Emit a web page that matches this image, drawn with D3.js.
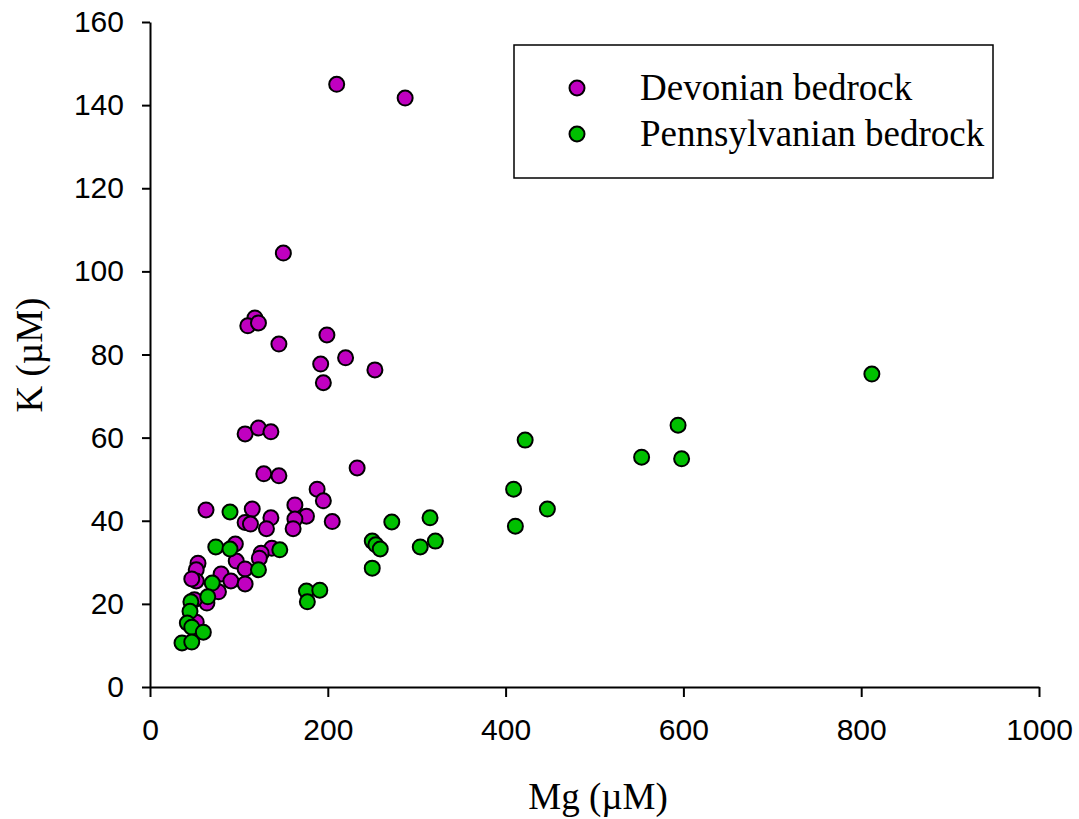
<!DOCTYPE html>
<html>
<head>
<meta charset="utf-8">
<script src="https://cdn.jsdelivr.net/npm/d3@7"></script>
<style>
  body { margin: 0; background: #fff; }
  .tick text { font-family: Arial, "Liberation Sans", sans-serif; font-size: 30px; fill: #000; }
  .tick line, .domain { stroke: #000; stroke-width: 2px; }
</style>
</head>
<body>
<script>
// Mg vs K
var devMg = [210, 287, 150, 118, 110, 122, 145, 199, 220, 192, 195, 253,
  107, 122, 136, 128, 145, 233, 188, 195, 63, 115, 136, 163, 176, 163, 161,
  205, 107, 113, 131, 96, 137, 125, 123, 97, 107, 54, 52, 80, 91, 107, 52,
  77, 64, 44, 52, 50, 47];
var devK = [145, 141.7, 104.4, 88.8, 86.9, 87.6, 82.5, 84.7, 79.2, 77.7, 73.2, 76.3,
  60.9, 62.3, 61.4, 51.3, 50.8, 52.7, 47.6, 44.8, 42.6, 42.8, 40.7, 43.8, 41.1, 40.4, 38.1,
  39.8, 39.6, 39.2, 38.1, 34.4, 33.4, 32.2, 31, 30.3, 28.4, 29.8, 28.2, 27.2, 25.5, 24.8, 25.5,
  22.9, 20.2, 15.4, 15.6, 21, 26];

var penMg = [90, 74, 90, 146, 122, 70, 65, 46, 45, 42, 47, 60, 36, 47,
  176, 191, 177, 250, 254, 259, 272, 304, 315, 321, 250, 409, 411, 422,
  447, 553, 594, 598, 812];
var penK = [42.1, 33.7, 33.2, 33, 28.2, 25, 21.7, 20.5, 18.2, 15.4, 14.4, 13.2, 10.6, 10.8,
  23.1, 23.3, 20.5, 35.1, 34.2, 33.2, 39.7, 33.7, 40.7, 35.1, 28.6, 47.6, 38.7, 59.4,
  42.8, 55.3, 63, 54.9, 75.3];

var seriesNames = ["Devonian bedrock", "Pennsylvanian bedrock"];
var seriesColors = ["#C000C0", "#00C000"];
var xTicks = [0, 200, 400, 600, 800, 1000];
var yTicks = [0, 20, 40, 60, 80, 100, 120, 140, 160];

var width = 1079, height = 819;
var svg = d3.select("body").append("svg")
    .attr("width", width)
    .attr("height", height);

var x = d3.scaleLinear().domain([0, 1000]).range([150, 1039]);
var y = d3.scaleLinear().domain([0, 160]).range([687, 22]);

svg.append("g")
    .attr("transform", "translate(0,687)")
    .call(d3.axisBottom(x).tickValues(xTicks).tickFormat(d3.format("d"))
      .tickSize(10).tickSizeOuter(0).tickPadding(22));

svg.append("g")
    .attr("transform", "translate(150,0)")
    .call(d3.axisLeft(y).tickValues(yTicks).tickFormat(d3.format("d"))
      .tickSize(8).tickSizeOuter(0).tickPadding(18));

// axis titles
svg.append("text")
    .attr("x", 598).attr("y", 809)
    .attr("text-anchor", "middle")
    .style("font-family", "'Liberation Serif', 'Times New Roman', serif")
    .style("font-size", "37px")
    .text("Mg (\u00b5M)");

svg.append("text")
    .attr("transform", "translate(42,355) rotate(-90)")
    .attr("text-anchor", "middle")
    .style("font-family", "'Liberation Serif', 'Times New Roman', serif")
    .style("font-size", "37px")
    .text("K (\u00b5M)");

// points
var dev = devMg.map(function(d, i) { return {x: d, y: devK[i]}; });
var pen = penMg.map(function(d, i) { return {x: d, y: penK[i]}; });

[dev, pen].forEach(function(pts, s) {
  svg.append("g").selectAll("circle")
    .data(pts)
    .enter()
    .append("circle")
    .attr("cx", function(d) { return x(d.x); })
    .attr("cy", function(d) { return y(d.y); })
    .attr("r", 7.5)
    .style("fill", seriesColors[s])
    .style("stroke", "#000")
    .style("stroke-width", 2);
});

// legend
var legend = svg.append("g");
legend.append("rect")
    .attr("x", 514).attr("y", 45)
    .attr("width", 479).attr("height", 133)
    .style("fill", "none")
    .style("stroke", "#000")
    .style("stroke-width", 1.5);

seriesNames.forEach(function(name, i) {
  var cy = 88 + i * 46;
  legend.append("circle")
    .attr("cx", 577).attr("cy", cy)
    .attr("r", 7.5)
    .style("fill", seriesColors[i])
    .style("stroke", "#000")
    .style("stroke-width", 2);
  legend.append("text")
    .attr("x", 640).attr("y", cy + 12)
    .style("font-family", "'Liberation Serif', 'Times New Roman', serif")
    .style("font-size", "37px")
    .text(name);
});
</script>
</body>
</html>
